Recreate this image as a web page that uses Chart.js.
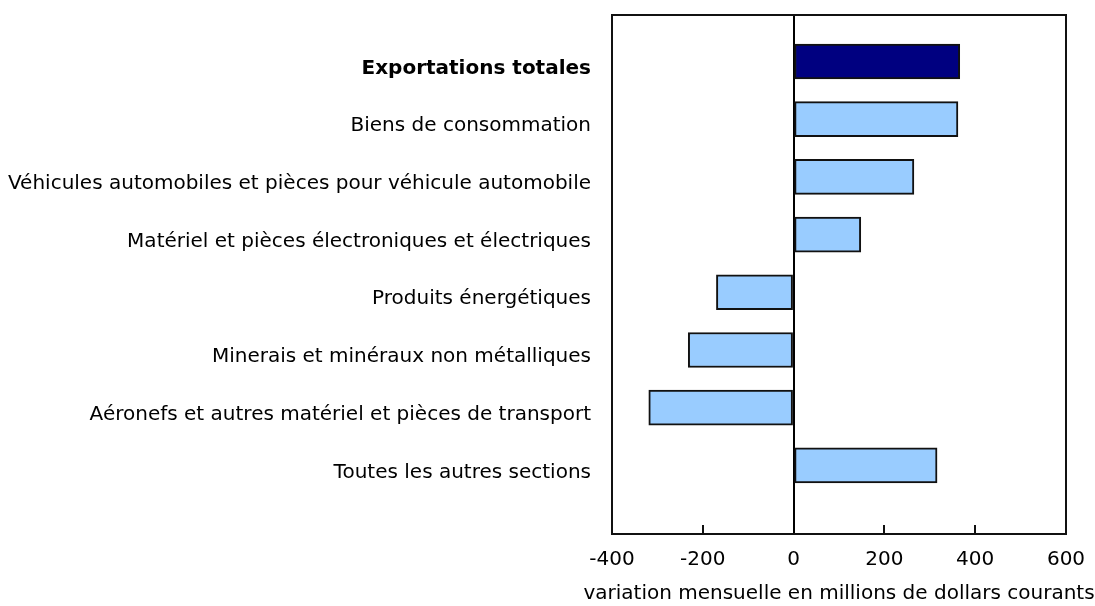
<html>
<head>
<meta charset="utf-8" />
<title>Exportations</title>
<style>
  html, body { margin: 0; padding: 0; background: #fff; }
  #wrap { width: 1095px; height: 606px; position: relative; }
</style>
</head>
<body>
<div id="wrap"><canvas id="chart"></canvas></div>
<script src="https://cdn.jsdelivr.net/npm/chart.js"></script>
<script>
// data
const categories = [
    "Exportations totales",
    "Biens de consommation",
    "Véhicules automobiles et pièces pour véhicule automobile",
    "Matériel et pièces électroniques et électriques",
    "Produits énergétiques",
    "Minerais et minéraux non métalliques",
    "Aéronefs et autres matériel et pièces de transport",
    "Toutes les autres sections"
];
const values = [366, 362, 265, 148, -170, -232, -319, 316];
const xTicks = [-400, -200, 0, 200, 400, 600];
const axisTitle = "variation mensuelle en millions de dollars courants";

const fontFamily = "'DejaVu Sans', Verdana, sans-serif";
const fontSize = 20;

// frame around the plot, small inside ticks on the bottom axis, axis title
const framePlugin = {
    id: 'frame',
    afterDraw(chart) {
        const c = chart.ctx, a = chart.chartArea, xs = chart.scales.x;
        c.save();
        c.strokeStyle = '#111';
        c.lineWidth = 2;
        c.strokeRect(a.left, a.top, a.right - a.left, a.bottom - a.top);
        c.beginPath();
        xs.ticks.forEach(t => {
            if (t.value === xs.min || t.value === xs.max || t.value === 0) return;
            const px = Math.round(xs.getPixelForValue(t.value));
            c.moveTo(px, a.bottom);
            c.lineTo(px, a.bottom - 9);
        });
        c.stroke();
        // title drawn here so it is not squeezed to the plot width
        c.fillStyle = '#000';
        c.font = fontSize + 'px ' + fontFamily;
        c.textAlign = 'center';
        c.textBaseline = 'middle';
        c.fillText(axisTitle, (a.left + a.right) / 2, 594);
        c.restore();
    }
};

var canvas = document.getElementById('chart');
var myChart = new Chart(canvas, {
    type: 'bar',
    data: {
        datasets: [{
            data: values.map((v, i) => ({ x: v, y: i })),
            backgroundColor: values.map((v, i) => i === 0 ? '#000080' : '#99ccff'),
            borderColor: '#111',
            borderWidth: 2,
            borderSkipped: false,
            barThickness: 35
        }]
    },
    options: {
        indexAxis: 'y',
        responsive: true,
        maintainAspectRatio: false,
        animation: false,
        layout: { padding: { top: 15, right: 29, bottom: 0, left: 0 } },
        plugins: { legend: { display: false }, tooltip: { enabled: false } },
        scales: {
            x: {
                type: 'linear',
                min: -400,
                max: 600,
                afterBuildTicks: (s) => { s.ticks = xTicks.map(v => ({ value: v })); },
                afterFit: (s) => { s.height = 72; s.paddingLeft = 0; s.paddingRight = 0; },
                grid: {
                    drawTicks: false,
                    color: (ctx) => ctx.tick && ctx.tick.value === 0 ? '#000' : 'rgba(0,0,0,0)',
                    lineWidth: 2
                },
                border: { display: false },
                ticks: {
                    padding: 14,
                    color: '#000',
                    maxRotation: 0,
                    font: { family: fontFamily, size: fontSize }
                }
            },
            y: {
                type: 'linear',
                reverse: true,
                offset: false,
                min: -0.806,
                max: 8.19,
                afterBuildTicks: (s) => { s.ticks = categories.map((c, i) => ({ value: i })); },
                afterFit: (s) => { s.width = 612; s.paddingTop = 0; s.paddingBottom = 0; },
                grid: { display: false, drawTicks: false, offset: false },
                border: { display: false },
                ticks: {
                    padding: 21,
                    labelOffset: 7,
                    color: '#000',
                    autoSkip: false,
                    callback: (v) => categories[v],
                    font: (ctx) => ({
                        family: fontFamily,
                        size: fontSize,
                        weight: ctx.index === 0 ? 'bold' : 'normal'
                    })
                }
            }
        }
    },
    plugins: [framePlugin]
});
canvas.chart = myChart;
</script>
</body>
</html>
